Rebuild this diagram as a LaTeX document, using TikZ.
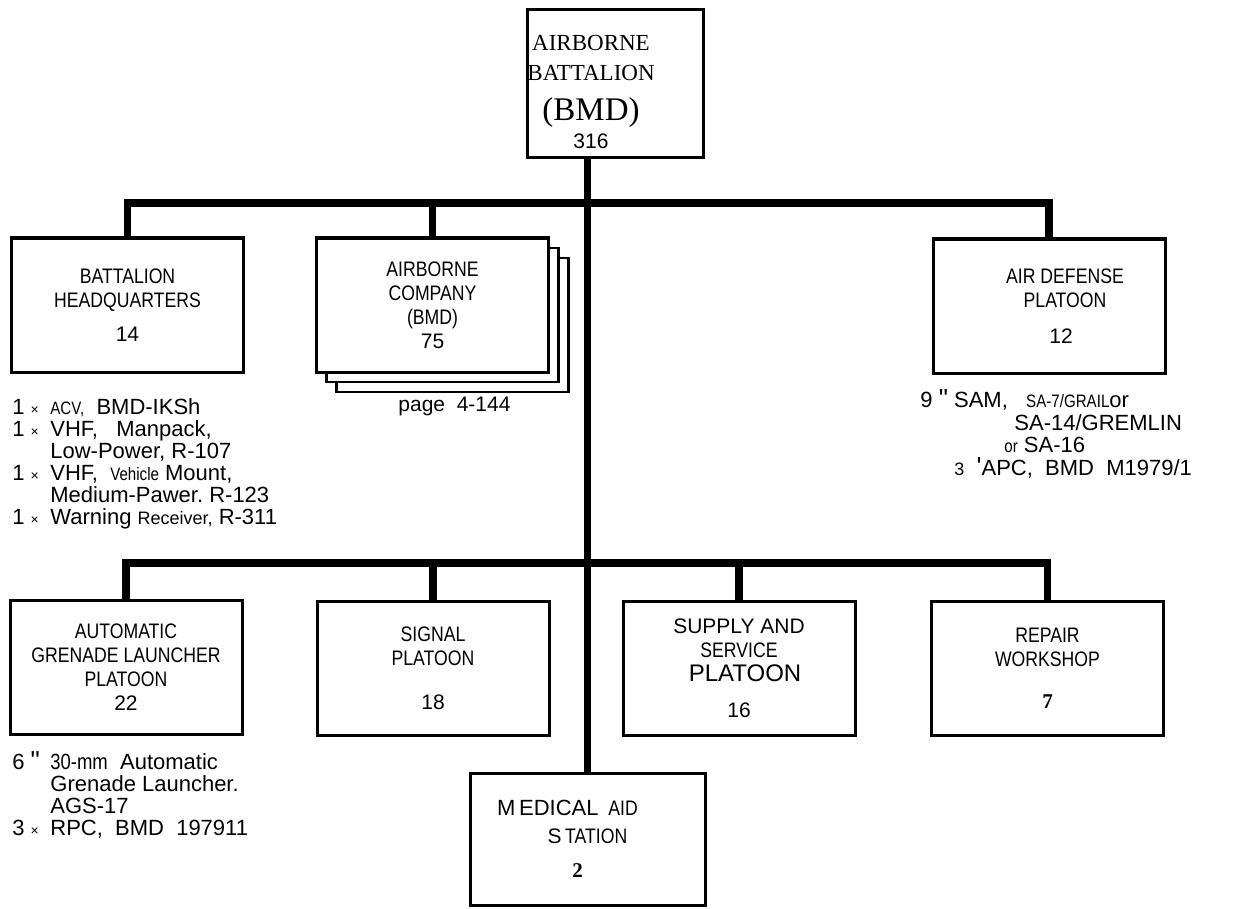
\documentclass[tikz,border=0pt]{standalone}
\usepackage{fontspec}
\setmainfont{Liberation Sans}
\newfontfamily\timesfont{Liberation Serif}
\newfontfamily\narrowfont[FakeStretch=0.84]{Liberation Sans}
\newfontfamily\quotefont[Ligatures=TeXOff]{Liberation Sans}
\usepackage{tikz}
\usetikzlibrary{positioning}
\newcommand\itemno[1]{\makebox[19pt][l]{#1}}
\newcommand\indentln{\hspace*{19pt}}

\begin{document}
\begin{tikzpicture}[x=0.5pt, y=-0.5pt,
  every node/.style={inner sep=0pt, font=\fontsize{10.5}{12}\selectfont},
  unit/.style={draw, line width=1.5pt, fill=white, minimum width=116pt, minimum height=67pt, align=center,
    font=\narrowfont\fontsize{10.5}{12}\selectfont},
  backsheet/.style={unit, line width=1.1pt},
  link/.style={line width=3.8pt, line join=miter},
  equip/.style={anchor=north west, align=left, font=\fontsize{11}{11}\selectfont}]
\useasboundingbox (0,0) rectangle (1246,909);

% battalion
\node[unit, minimum width=88pt, minimum height=74pt] (bn) at (615,84) {};
\node[align=center, font=\timesfont\fontsize{11.5}{15}\selectfont] (bnlabel) at (591,92)
  {AIRBORNE\\BATTALION\\[5pt]{\fontsize{16.5}{18}\selectfont (BMD)}\\[-1pt]{\rmfamily\fontsize{10.5}{12}\selectfont 316}};

% bus coordinates
\coordinate (upbus) at (588,203);
\coordinate (lowbus) at (588,563);

% first row
\node[unit] (hq) at (127.5,305) {BATTALION\\HEADQUARTERS\\[5pt]{\rmfamily 14}};
\node[backsheet] (co3) at (452.5,325) {};
\node[backsheet] (co2) at (442.5,315) {};
\node[unit] (co) at (432.5,305) {AIRBORNE\\COMPANY\\(BMD)\\{\rmfamily 75}};
\node[unit] (ad) at (1049,306) {\hspace*{16pt}AIR DEFENSE\\\hspace*{16pt}PLATOON\\[6pt]\hspace*{12pt}{\rmfamily 12}};

\node[anchor=west] (pg) at (398,406) {page\ \ 4-144};

% second row
\node[unit] (agl) at (126,667.5) {AUTOMATIC\\GRENADE LAUNCHER\\PLATOON\\{\rmfamily 22}};
\node[unit] (sig) at (433,668) {SIGNAL\\PLATOON\\[10pt]{\rmfamily 18}};
\node[unit] (sup) at (739,668) {{\rmfamily SUPPLY AND}\\SERVICE\\{\rmfamily\fontsize{12}{13}\selectfont\hspace*{6pt}PLATOON}\\[6pt]{\rmfamily 16}};
\node[unit] (rep) at (1047.5,668) {REPAIR\\WORKSHOP\\[9pt]{\timesfont\bfseries 7}};
\node[unit, minimum width=117.5pt, minimum height=66pt] (med) at (587.5,839)
  {{\rmfamily\fontsize{11}{12}\selectfont M\,EDICAL}\ \ AID\hspace*{20pt}\\[2pt]{\rmfamily S}\,TATION\hspace*{20pt}\\[5pt]{\timesfont\bfseries 2}\hspace*{10pt}};

% connectors
\draw[link] (med.north |- bn.south) -- (med.north);
\draw[link] (hq.north) |- (upbus) -| (ad.north);
\draw[link] (co.north) -- (co.north |- upbus);
\draw[link] (agl.north) |- (lowbus) -| (rep.north);
\draw[link] (sig.north) -- (sig.north |- lowbus);
\draw[link] (sup.north) -- (sup.north |- lowbus);

% equipment lists
\node[equip] (hqeq) at (12,398)
  {\itemno{1 {\scriptsize ×}}{\narrowfont\small ACV,}\ \ BMD-IKSh\\
   \itemno{1 {\scriptsize ×}}VHF,\ \ \ Manpack,\\
   \indentln Low-Power,\ R-107\\
   \itemno{1 {\scriptsize ×}}VHF,\ \ {\narrowfont\small Vehicle} Mount,\\
   \indentln Medium-Pawer.\ R-123\\
   \itemno{1 {\scriptsize ×}}Warning\ {\small Receiver,} R-311};
\node[equip, font=\fontsize{11}{11.4}\selectfont] (adeq) at (920,389)
  {9 {\quotefont\fontsize{13}{11}\selectfont "}\ SAM,\ \ \ {\narrowfont\small SA-7/GRAIL}or\\
   \hspace*{47pt}SA-14/GREMLIN\\
   \hspace*{42pt}{\narrowfont\small or} SA-16\\
   \hspace*{17pt}{\small 3}\ \ {\quotefont\fontsize{13}{11}\selectfont '}APC,\ \ BMD\ \ M1979/1};
\node[equip] (agleq) at (12,751)
  {\itemno{6 {\quotefont\fontsize{13}{11}\selectfont "}}{\narrowfont 30-mm}\ \ Automatic\\
   \indentln Grenade Launcher.\\
   \indentln AGS-17\\
   \itemno{3 {\scriptsize ×}}RPC,\ \ BMD\ \ 197911};
\end{tikzpicture}
\end{document}
